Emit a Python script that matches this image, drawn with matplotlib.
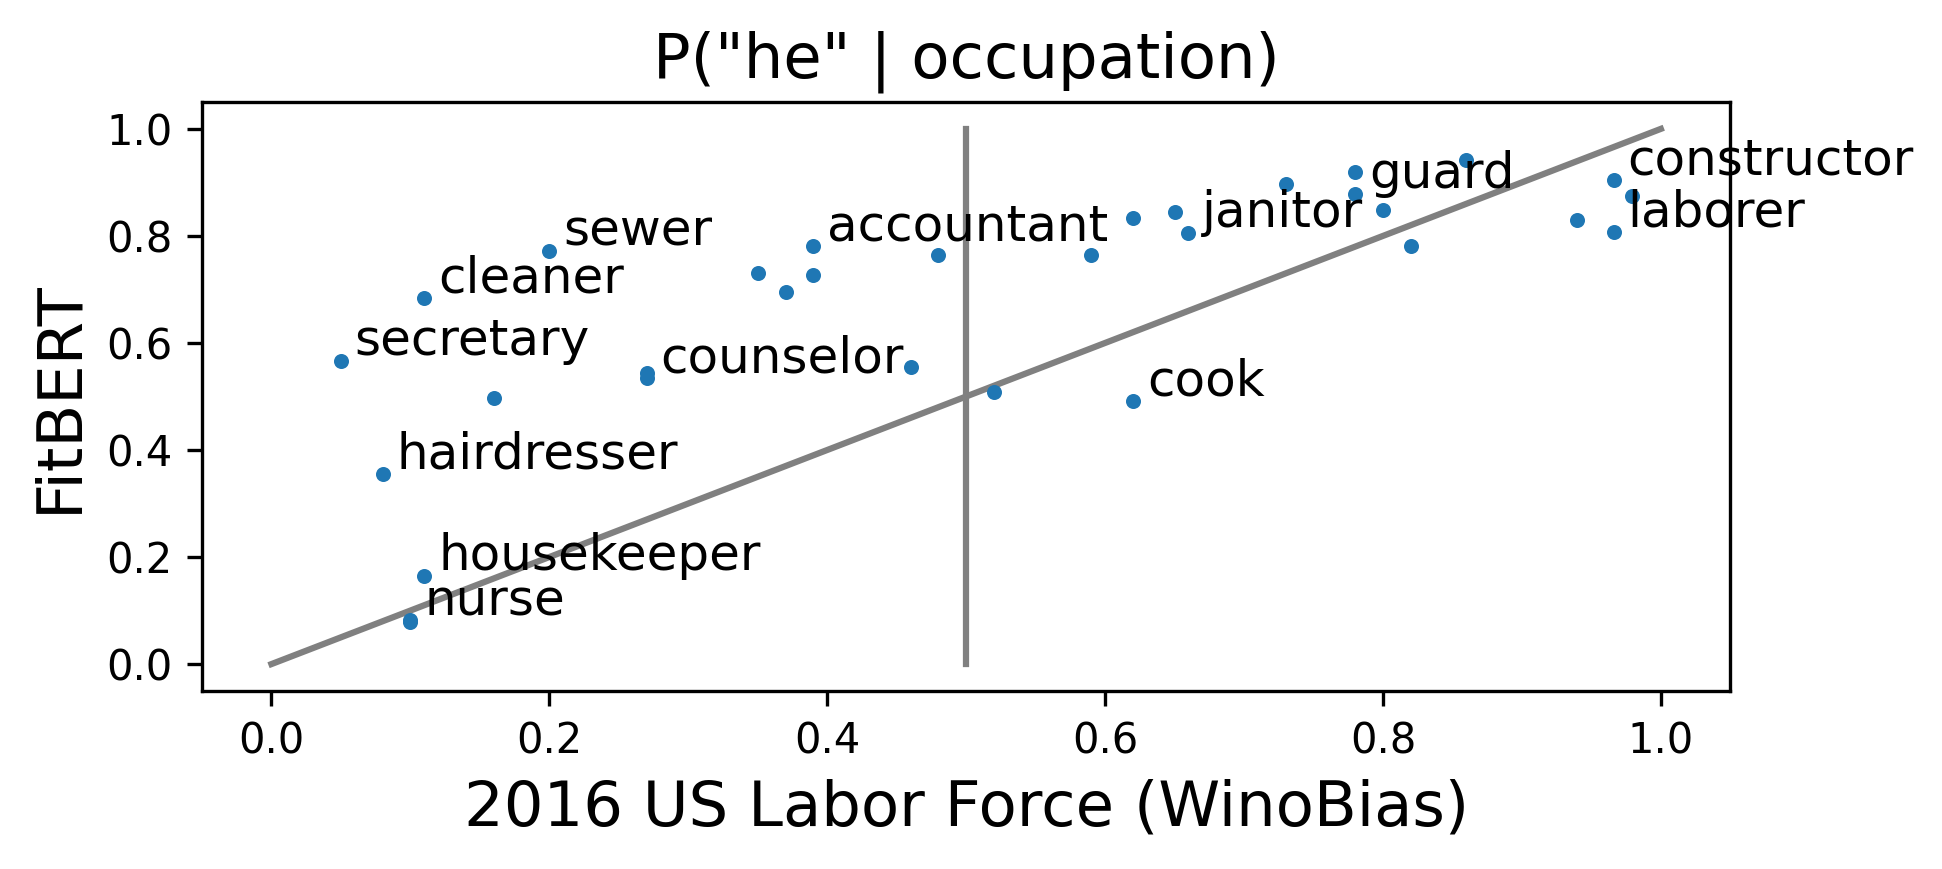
import matplotlib
matplotlib.use("Agg")
import matplotlib.pyplot as plt

# share of men in the 2016 US labor force (WinoBias) vs FitBERT P("he")
labor_force = [0.05, 0.08, 0.10, 0.10, 0.11, 0.11, 0.16, 0.20, 0.27, 0.27,
               0.35, 0.37, 0.39, 0.39, 0.46, 0.48, 0.52, 0.59, 0.62, 0.62,
               0.65, 0.66, 0.73, 0.78, 0.78, 0.80, 0.82, 0.86, 0.94, 0.966,
               0.979, 0.966]
fitbert = [0.567, 0.356, 0.083, 0.078, 0.684, 0.165, 0.497, 0.772, 0.543, 0.535,
           0.731, 0.696, 0.782, 0.727, 0.556, 0.765, 0.508, 0.765, 0.492, 0.833,
           0.844, 0.806, 0.897, 0.919, 0.879, 0.848, 0.782, 0.941, 0.830, 0.905,
           0.875, 0.807]
# only some occupations are named on the plot
names = ["secretary", "hairdresser", "nurse", "", "cleaner", "housekeeper", "", "sewer", "", "counselor",
         "", "", "accountant", "", "", "", "", "", "cook", "",
         "", "janitor", "", "", "guard", "", "", "", "", "constructor",
         "", "laborer"]

fig = plt.figure(figsize=(1942 / 300, 869 / 300), dpi=300)
ax = fig.add_axes([0.104, 0.205, 0.787, 0.6775])

ax.plot([0, 1], [0, 1], color="gray", linewidth=1.5)
ax.plot([0.5, 0.5], [0, 1], color="gray", linewidth=1.5)
ax.scatter(labor_force, fitbert, s=13, color="#1f77b4", linewidths=0, zorder=3)

for x, y, name in zip(labor_force, fitbert, names):
    if name:
        ax.text(x + 0.01, y + 0.01, name, fontsize=12)

ax.set_xlim(-0.05, 1.05)
ax.set_ylim(-0.05, 1.05)
ax.tick_params(labelsize=10)
ax.set_title('P("he" | occupation)', fontsize=15)
ax.set_xlabel("2016 US Labor Force (WinoBias)", fontsize=15)
ax.set_ylabel("FitBERT", fontsize=15)

fig.savefig("out.png", dpi=300)
